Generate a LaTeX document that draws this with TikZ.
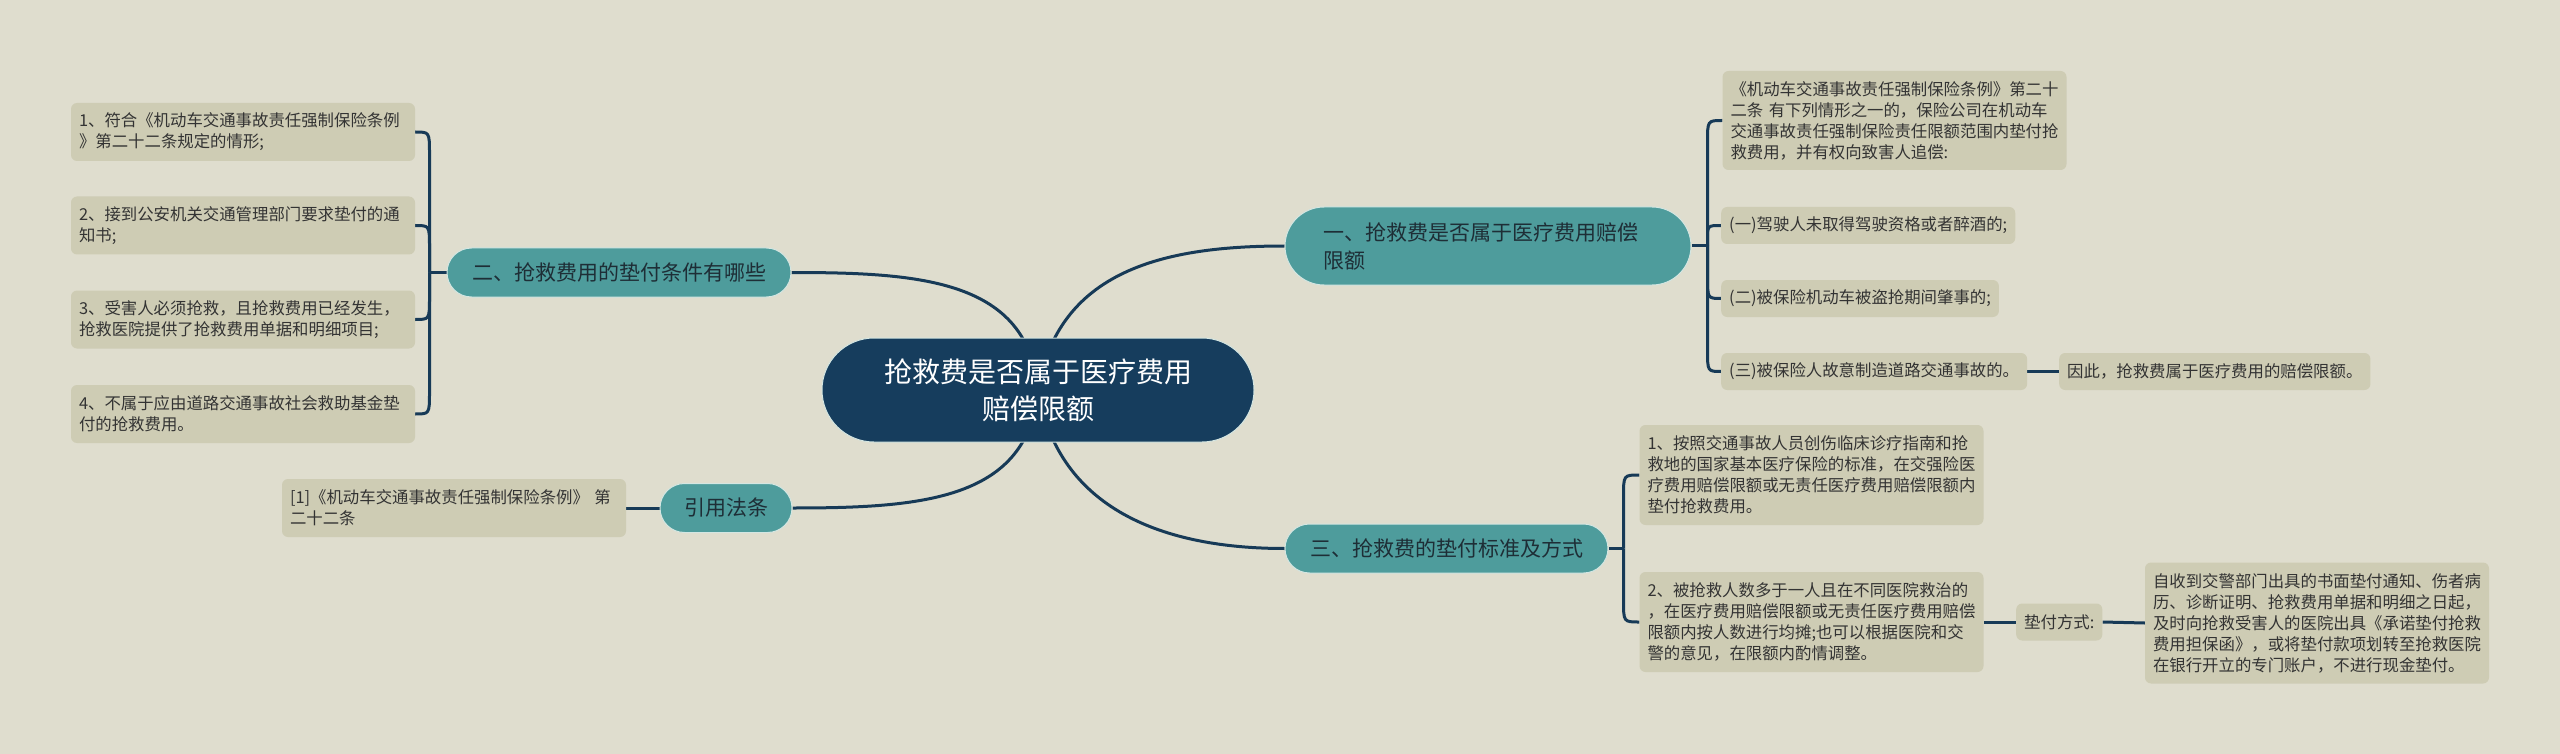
\documentclass[tikz,border=0pt]{standalone}
\usepackage{fontspec}
\setmainfont{Noto Sans CJK SC}
\usetikzlibrary{calc,backgrounds}
\definecolor{bgc}{HTML}{DFDDCE}
\definecolor{leafc}{HTML}{CECCB4}
\definecolor{branchc}{HTML}{4E9C9C}
\definecolor{rootc}{HTML}{163D5D}
\definecolor{linec}{HTML}{173A57}
\definecolor{txtc}{HTML}{333333}
\definecolor{btxt}{HTML}{1E2E36}
\definecolor{rimc}{HTML}{D4E6E2}
\begin{document}
\begin{tikzpicture}[x=1pt,y=-1pt,
  leafbox/.style={fill=leafc, rounded corners=6pt, inner xsep=8pt, inner ysep=3pt,
    font=\fontsize{16.4}{21}\selectfont, text=txtc, align=left, minimum height=37pt},
  wideleaf/.style={leafbox, text width=328pt},
  branchbox/.style={fill=branchc, draw=rimc, line width=1pt, text=btxt,
    font=\fontsize{21}{28}\selectfont, minimum height=49pt, rounded corners=24.5pt, inner sep=0pt},
  rootbox/.style={fill=rootc, draw=rimc, line width=1pt, text=white,
    font=\fontsize{28}{37}\selectfont, align=center, minimum width=432pt,
    minimum height=104pt, rounded corners=52pt, inner sep=0pt},
  conn/.style={draw=linec, line width=3pt}]
\useasboundingbox (0,0) rectangle (2560,754);

% root and branches
\node[rootbox] (root) at (1038,390) {抢救费是否属于医疗费用\\赔偿限额};
\node[branchbox, minimum width=344pt] (b2) at (619,272.5) {二、抢救费用的垫付条件有哪些};
\node[branchbox, minimum width=406pt, minimum height=78pt, rounded corners=39pt,
      text width=330pt, align=left, inner xsep=38pt] (b1) at (1488,246) {一、抢救费是否属于医疗费用赔偿\\限额};
\node[branchbox, minimum width=323pt] (b3) at (1446.5,548.5) {三、抢救费的垫付标准及方式};
\node[branchbox, minimum width=132pt] (b4) at (726,508) {引用法条};

% left leaves
\node[wideleaf, minimum height=58pt] (l1) at (243,132) {1、符合《机动车交通事故责任强制保险条例\\》第二十二条规定的情形;};
\node[wideleaf, minimum height=58pt] (l2) at (243,225.5) {2、接到公安机关交通管理部门要求垫付的通\\知书;};
\node[wideleaf, minimum height=58pt] (l3) at (243,319.5) {3、受害人必须抢救，且抢救费用已经发生，\\抢救医院提供了抢救费用单据和明细项目;};
\node[wideleaf, minimum height=58pt] (l4) at (243,414) {4、不属于应由道路交通事故社会救助基金垫\\付的抢救费用。};
\node[wideleaf, minimum height=58pt] (cite) at (454,508) {[1]《机动车交通事故责任强制保险条例》 第\\二十二条};

% right leaves of branch one
\node[wideleaf, minimum height=99pt] (ra) at (1894.5,120.5) {《机动车交通事故责任强制保险条例》第二十\\二条 有下列情形之一的，保险公司在机动车\\交通事故责任强制保险责任限额范围内垫付抢\\救费用，并有权向致害人追偿:};
\node[leafbox, anchor=west] (ra1) at (1721,225.5) {(一)驾驶人未取得驾驶资格或者醉酒的;};
\node[leafbox, anchor=west] (ra2) at (1721,298.5) {(二)被保险机动车被盗抢期间肇事的;};
\node[leafbox, anchor=west] (ra3) at (1721,371.5) {(三)被保险人故意制造道路交通事故的。};
\node[leafbox, anchor=west] (thus) at (2059,371.5) {因此，抢救费属于医疗费用的赔偿限额。};

% leaves of branch three
\node[wideleaf, minimum height=100pt] (m1) at (1811.5,475) {1、按照交通事故人员创伤临床诊疗指南和抢\\救地的国家基本医疗保险的标准，在交强险医\\疗费用赔偿限额或无责任医疗费用赔偿限额内\\垫付抢救费用。};
\node[wideleaf, minimum height=100pt] (m2) at (1811.5,622) {2、被抢救人数多于一人且在不同医院救治的\\，在医疗费用赔偿限额或无责任医疗费用赔偿\\限额内按人数进行均摊;也可以根据医院和交\\警的意见，在限额内酌情调整。};
\node[leafbox, anchor=west] (way) at (2016,622) {垫付方式:};
\node[wideleaf, minimum height=121pt] (fin) at (2317,623) {自收到交警部门出具的书面垫付通知、伤者病\\历、诊断证明、抢救费用单据和明细之日起，\\及时向抢救受害人的医院出具《承诺垫付抢救\\费用担保函》，或将垫付款项划转至抢救医院\\在银行开立的专门账户，不进行现金垫付。};

\begin{pgfonlayer}{background}
\fill[bgc] (0,0) rectangle (2560,754);
% root to branches
\draw[conn] (root.center) .. controls ($(root.center)+(-10,-110)$) and ($(b2.east)+(130,0)$) .. (b2.east);
\draw[conn] (root.center) .. controls ($(root.center)+(20,-120)$) and ($(b1.west)+(-120,0)$) .. (b1.west);
\draw[conn] (root.center) .. controls ($(root.center)+(-10,110)$) and ($(b4.east)+(130,0)$) .. (b4.east);
\draw[conn] (root.center) .. controls ($(root.center)+(20,120)$) and ($(b3.west)+(-120,0)$) .. (b3.west);
% left bracket
\coordinate (j2) at ($(b2.west)+(-17,0)$);
\draw[conn] (b2.west) -- (j2);
\draw[conn] (j2) -- ($(j2 |- l1.east)+(0,22)$) .. controls (j2 |- l1.east) .. (l1.east);
\draw[conn] (j2) -- ($(j2 |- l2.east)+(0,22)$) .. controls (j2 |- l2.east) .. (l2.east);
\draw[conn] (j2) -- ($(j2 |- l3.east)+(0,-22)$) .. controls (j2 |- l3.east) .. (l3.east);
\draw[conn] (j2) -- ($(j2 |- l4.east)+(0,-22)$) .. controls (j2 |- l4.east) .. (l4.east);
\draw[conn] (b4.west) -- (cite.east);
% branch one bracket
\coordinate (j1) at ($(b1.east)+(16,0)$);
\draw[conn] (b1.east) -- (j1);
\draw[conn] (j1) -- ($(j1 |- ra.west)+(0,22)$) .. controls (j1 |- ra.west) .. (ra.west);
\draw[conn] (j1) -- ($(j1 |- ra1.west)+(0,14)$) .. controls (j1 |- ra1.west) .. (ra1.west);
\draw[conn] (j1) -- ($(j1 |- ra2.west)+(0,-22)$) .. controls (j1 |- ra2.west) .. (ra2.west);
\draw[conn] (j1) -- ($(j1 |- ra3.west)+(0,-22)$) .. controls (j1 |- ra3.west) .. (ra3.west);
\draw[conn] (ra3.east) -- (thus.west);
% branch three bracket
\coordinate (j3) at ($(b3.east)+(15,0)$);
\draw[conn] (b3.east) -- (j3);
\draw[conn] (j3) -- ($(j3 |- m1.west)+(0,22)$) .. controls (j3 |- m1.west) .. (m1.west);
\draw[conn] (j3) -- ($(j3 |- m2.west)+(0,-22)$) .. controls (j3 |- m2.west) .. (m2.west);
\draw[conn] (m2.east) -- (way.west);
\draw[conn] (way.east) -- (fin.west);
\end{pgfonlayer}
\end{tikzpicture}
\end{document}
